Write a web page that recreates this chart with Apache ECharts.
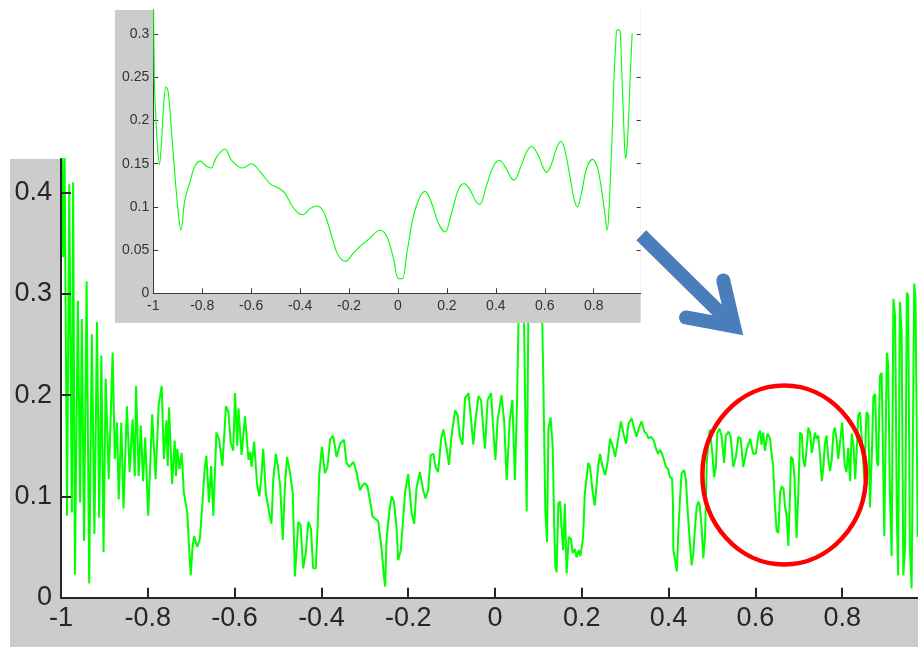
<!DOCTYPE html>
<html><head><meta charset="utf-8">
<script src="https://cdn.jsdelivr.net/npm/echarts@6/dist/echarts.min.js"></script>
<style>html,body{margin:0;padding:0;background:#fff}#c{width:918px;height:647px}</style>
</head><body><div id="c"></div>
<script>
// Main (oscillating) curve: [x, value] turning points
const mainCurve = [
[-1.000,0.50],[-0.995,0.336],[-0.992,0.45],[-0.986,0.081],[-0.981,0.408],[-0.975,0.084],[-0.972,0.41],[-0.968,0.023],[-0.961,0.293],[-0.956,0.094],[-0.952,0.275],[-0.947,0.056],[-0.941,0.312],[-0.935,0.014],[-0.929,0.26],[-0.923,0.063],[-0.917,0.272],[-0.912,0.079],[-0.907,0.239],[-0.902,0.045],[-0.897,0.216],[-0.890,0.117],[-0.881,0.242],[-0.876,0.137],[-0.871,0.173],[-0.867,0.097],[-0.861,0.173],[-0.856,0.088],[-0.848,0.189],[-0.842,0.124],[-0.835,0.176],[-0.830,0.12],[-0.827,0.209],[-0.821,0.12],[-0.816,0.17],[-0.811,0.115],[-0.806,0.158],[-0.799,0.081],[-0.790,0.181],[-0.782,0.117],[-0.775,0.19],[-0.768,0.209],[-0.763,0.137],[-0.757,0.175],[-0.754,0.13],[-0.751,0.188],[-0.744,0.112],[-0.738,0.155],[-0.735,0.12],[-0.732,0.147],[-0.727,0.127],[-0.722,0.143],[-0.717,0.104],[-0.709,0.084],[-0.705,0.05],[-0.701,0.022],[-0.697,0.05],[-0.693,0.061],[-0.686,0.05],[-0.680,0.058],[-0.674,0.094],[-0.669,0.127],[-0.665,0.14],[-0.659,0.094],[-0.654,0.13],[-0.649,0.081],[-0.642,0.163],[-0.636,0.157],[-0.628,0.13],[-0.620,0.189],[-0.614,0.183],[-0.609,0.153],[-0.603,0.145],
[-0.599,0.202],[-0.594,0.150],[-0.591,0.187],[-0.584,0.141],[-0.576,0.179],[-0.568,0.136],[-0.564,0.144],[-0.561,0.129],[-0.555,0.154],[-0.548,0.111],[-0.543,0.100],[-0.539,0.116],[-0.534,0.147],[-0.528,0.103],[-0.520,0.083],[-0.515,0.073],[-0.511,0.116],[-0.505,0.142],[-0.500,0.129],[-0.495,0.110],[-0.489,0.057],[-0.484,0.111],[-0.479,0.139],[-0.472,0.123],[-0.466,0.103],[-0.461,0.021],[-0.453,0.075],[-0.448,0.072],[-0.442,0.029],[-0.436,0.044],[-0.430,0.075],[-0.424,0.068],[-0.419,0.029],[-0.413,0.029],[-0.409,0.067],[-0.405,0.121],[-0.399,0.149],[-0.392,0.123],[-0.386,0.129],[-0.380,0.156],[-0.373,0.160],[-0.365,0.139],[-0.357,0.152],[-0.348,0.156],[-0.342,0.133],[-0.336,0.129],[-0.326,0.134],[-0.319,0.124],[-0.311,0.106],[-0.305,0.111],[-0.300,0.113],[-0.294,0.110],[-0.288,0.096],[-0.282,0.080],[-0.273,0.077],[-0.269,0.075],[-0.261,0.047],[-0.256,0.021],[-0.253,0.011],[-0.250,0.057],[-0.243,0.087],[-0.238,0.100],[-0.233,0.095],[-0.227,0.070],[-0.223,0.037],[-0.217,0.047],[-0.213,0.070],[-0.207,0.105],
[-0.200,0.122],[-0.192,0.083],[-0.186,0.073],[-0.181,0.108],[-0.173,0.124],[-0.165,0.105],[-0.160,0.098],[-0.154,0.106],[-0.148,0.141],[-0.142,0.142],[-0.137,0.129],[-0.131,0.124],[-0.124,0.157],[-0.119,0.166],[-0.111,0.146],[-0.106,0.131],[-0.100,0.160],[-0.092,0.185],[-0.086,0.180],[-0.081,0.159],[-0.075,0.151],[-0.069,0.197],[-0.061,0.202],[-0.055,0.175],[-0.050,0.151],[-0.045,0.175],[-0.038,0.199],[-0.032,0.195],[-0.027,0.166],[-0.023,0.147],[-0.017,0.195],[-0.009,0.202],[-0.004,0.166],[0.001,0.136],[0.006,0.175],[0.015,0.200],[0.021,0.175],[0.027,0.116],[0.034,0.175],[0.040,0.195],[0.046,0.116],[0.051,0.198],
[0.057,0.34],[0.066,0.30],[0.073,0.085],[0.078,0.34],[0.086,0.30],[0.092,0.36],[0.099,0.30],[0.106,0.34],[0.111,0.225],[0.116,0.085],[0.120,0.055],[0.123,0.166],[0.128,0.178],[0.133,0.149],[0.136,0.080],[0.139,0.031],[0.142,0.025],[0.146,0.093],[0.150,0.095],[0.153,0.072],[0.157,0.047],[0.161,0.093],[0.165,0.024],[0.170,0.060],[0.175,0.058],[0.179,0.044],[0.184,0.048],[0.188,0.040],[0.193,0.047],[0.197,0.041],[0.203,0.060],
[0.207,0.103],[0.215,0.133],[0.219,0.129],[0.225,0.105],[0.230,0.091],[0.238,0.131],[0.242,0.142],[0.248,0.129],[0.254,0.121],[0.260,0.135],[0.265,0.157],[0.271,0.150],[0.277,0.139],[0.284,0.157],[0.290,0.174],[0.296,0.162],[0.302,0.152],[0.308,0.172],[0.315,0.177],[0.320,0.168],[0.326,0.159],[0.332,0.168],[0.338,0.174],[0.344,0.164],[0.349,0.162],[0.354,0.157],[0.359,0.159],[0.365,0.156],[0.371,0.147],[0.376,0.142],[0.380,0.146],[0.384,0.143],[0.388,0.138],[0.394,0.129],[0.399,0.127],[0.403,0.119],[0.408,0.118],[0.410,0.095],[0.411,0.047],[0.415,0.037],[0.419,0.026],[0.422,0.060],[0.426,0.096],[0.430,0.123],[0.436,0.126],[0.440,0.116],[0.443,0.093],[0.448,0.060],[0.453,0.032],[0.457,0.044],[0.461,0.070],[0.465,0.090],[0.469,0.095],[0.472,0.090],[0.476,0.070],[0.480,0.039],[0.484,0.060],[0.488,0.133],[0.492,0.156],[0.495,0.166],[0.501,0.142],[0.505,0.119],[0.509,0.129],[0.512,0.162],[0.517,0.167],[0.522,0.160],[0.528,0.133],[0.532,0.160],[0.538,0.164],[0.543,0.159],[0.549,0.129],[0.555,0.139],[0.561,0.159],[0.566,0.157],[0.572,0.129],[0.580,0.146],[0.588,0.157],[0.595,0.142],[0.601,0.142],[0.607,0.161],
[0.611,0.165],[0.614,0.151],[0.618,0.163],[0.622,0.145],[0.628,0.162],[0.634,0.157],[0.637,0.143],[0.641,0.130],[0.645,0.091],[0.649,0.066],[0.653,0.064],[0.657,0.104],[0.661,0.110],[0.665,0.107],[0.668,0.091],[0.672,0.081],[0.676,0.051],[0.680,0.104],[0.682,0.139],[0.686,0.137],[0.690,0.120],[0.695,0.059],[0.699,0.104],[0.703,0.163],[0.707,0.161],[0.710,0.137],[0.714,0.129],[0.718,0.147],[0.722,0.168],[0.726,0.163],[0.730,0.143],[0.733,0.150],[0.737,0.163],[0.741,0.157],[0.745,0.160],[0.749,0.140],[0.753,0.115],[0.757,0.130],[0.760,0.152],[0.764,0.160],[0.768,0.137],[0.772,0.125],[0.776,0.137],[0.780,0.163],[0.783,0.168],[0.787,0.157],[0.791,0.137],[0.795,0.153],[0.800,0.173],[0.802,0.157],[0.806,0.130],[0.810,0.124],[0.814,0.148],[0.818,0.115],[0.822,0.162],[0.826,0.150],[0.830,0.117],[0.834,0.150],[0.837,0.180],[0.841,0.183],[0.845,0.157],[0.851,0.117],[0.856,0.183],[0.860,0.181],[0.864,0.089],[0.868,0.137],[0.872,0.199],[0.876,0.201],[0.880,0.134],[0.883,0.130],[0.887,0.219],[0.891,0.222],[0.895,0.117],[0.897,0.061],[0.903,0.242],[0.906,0.230],[0.910,0.104],[0.914,0.041],[0.918,0.295],[0.922,0.277],[0.926,0.078],[0.929,0.022],[0.933,0.292],[0.937,0.262],[0.941,0.022],[0.945,0.051],[0.949,0.301],[0.952,0.298],[0.956,0.051],[0.960,0.009],[0.966,0.310],[0.969,0.295],[0.974,0.060]
];

// Inset (smooth) curve
const insetCurve = [
[-1.000,0.40],[-0.996,0.25],[-0.989,0.20],[-0.983,0.17],[-0.975,0.149],[-0.966,0.177],[-0.959,0.212],[-0.948,0.239],[-0.939,0.233],[-0.925,0.185],[-0.911,0.135],[-0.898,0.093],[-0.887,0.073],[-0.871,0.108],[-0.850,0.129],[-0.830,0.147],[-0.807,0.153],[-0.782,0.147],[-0.764,0.145],[-0.741,0.158],[-0.707,0.167],[-0.680,0.154],[-0.635,0.145],[-0.598,0.150],[-0.564,0.141],[-0.523,0.127],[-0.489,0.122],[-0.462,0.116],[-0.435,0.102],[-0.408,0.093],[-0.387,0.091],[-0.360,0.098],[-0.333,0.101],[-0.305,0.095],[-0.278,0.073],[-0.251,0.048],[-0.230,0.039],[-0.213,0.037],[-0.190,0.044],[-0.156,0.054],[-0.122,0.062],[-0.073,0.073],[-0.046,0.066],[-0.019,0.041],[0.002,0.017],[0.018,0.017],[0.036,0.046],[0.063,0.089],[0.090,0.112],[0.110,0.118],[0.138,0.104],[0.165,0.081],[0.192,0.071],[0.219,0.093],[0.247,0.120],[0.270,0.127],[0.294,0.120],[0.319,0.106],[0.335,0.103],[0.362,0.125],[0.390,0.147],[0.414,0.154],[0.437,0.147],[0.464,0.133],[0.475,0.131],[0.505,0.149],[0.526,0.164],[0.546,0.170],[0.573,0.160],[0.594,0.145],[0.607,0.140],[0.628,0.150],[0.648,0.168],[0.666,0.176],[0.682,0.166],[0.703,0.135],[0.719,0.110],[0.733,0.100],[0.750,0.116],[0.771,0.145],[0.795,0.155],[0.814,0.147],[0.832,0.120],[0.845,0.093],[0.855,0.073],[0.863,0.100],[0.873,0.166],[0.882,0.243],[0.890,0.289],[0.896,0.305],[0.907,0.304],[0.914,0.262],[0.923,0.193],[0.930,0.156],[0.938,0.177],[0.948,0.243],[0.957,0.301]
];

const mainXTicks = [-1, -0.8, -0.6, -0.4, -0.2, 0, 0.2, 0.4, 0.6, 0.8];
const mainYTicks = [0, 0.1, 0.2, 0.3, 0.4];
const insetXTicks = [-1, -0.8, -0.6, -0.4, -0.2, 0, 0.2, 0.4, 0.6, 0.8];
const insetYTicks = [0, 0.05, 0.1, 0.15, 0.2, 0.25, 0.3];

// annotations in main-plot data coordinates
const arrowTail = [0.337, 0.3577];
const arrowVertex = [0.5507, 0.2677];
const arrowArm1 = [0.526, 0.3131];
const arrowArm2 = [0.4401, 0.2766];
const circleCenter = [0.6664, 0.1211];
const circleLeft = [0.4779, 0.1211];
const circleTop = [0.6664, 0.2095];

const FONT = 'Liberation Sans';
const AX = '#262626';
const chart = echarts.init(document.getElementById('c'));

const panels = [
  {id:'mainPanel', type:'rect', shape:{x:10, y:159, width:908, height:488}, style:{fill:'#cccccc'}, z:0, zlevel:0, silent:true},
  {id:'insetPanel', type:'rect', shape:{x:115, y:10, width:525.7, height:313}, style:{fill:'#cccccc'}, z:0, zlevel:1, silent:true}
];

const option = {
  animation: false,
  backgroundColor: '#ffffff',
  grid: [
    {left:61, top:159, right:0, bottom:49.3, show:true, backgroundColor:'#ffffff', borderWidth:0, z:1, zlevel:0, outerBoundsMode:'none', containLabel:false},
    {left:153.3, top:10, right:277.3, bottom:353.7, show:true, backgroundColor:'#ffffff', borderWidth:0, z:1, zlevel:1, outerBoundsMode:'none', containLabel:false}
  ],
  xAxis: [
    {type:'value', gridIndex:0, min:-1, max:0.9747, z:4, zlevel:0,
     axisLine:{show:true, onZero:false, lineStyle:{color:AX, width:2}},
     axisTick:{show:true, inside:true, length:10, customValues:mainXTicks, lineStyle:{color:AX, width:2}},
     axisLabel:{show:true, customValues:mainXTicks, fontSize:27, fontFamily:FONT, color:AX, margin:7},
     splitLine:{show:false}},
    {type:'value', gridIndex:1, min:-1, max:0.992, z:2, zlevel:1,
     axisLine:{show:true, onZero:false, lineStyle:{color:'#3a3a3a', width:1}},
     axisTick:{show:true, inside:true, length:5, customValues:insetXTicks, lineStyle:{color:'#3a3a3a', width:1}},
     axisLabel:{show:true, customValues:insetXTicks, fontSize:14, fontFamily:FONT, color:'#333333', margin:6},
     splitLine:{show:false}}
  ],
  yAxis: [
    {type:'value', gridIndex:0, min:0, max:0.433, z:4, zlevel:0,
     axisLine:{show:true, onZero:false, lineStyle:{color:AX, width:2}},
     axisTick:{show:true, inside:true, length:10, customValues:mainYTicks, lineStyle:{color:AX, width:2}},
     axisLabel:{show:true, customValues:mainYTicks, fontSize:27, fontFamily:FONT, color:AX, margin:9},
     splitLine:{show:false}},
    {type:'value', gridIndex:1, min:0, max:0.328, z:2, zlevel:1,
     axisLine:{show:true, onZero:false, lineStyle:{color:'#3a3a3a', width:1}},
     axisTick:{show:true, inside:true, length:5, customValues:insetYTicks, lineStyle:{color:'#3a3a3a', width:1}},
     axisLabel:{show:true, customValues:insetYTicks, fontSize:14, fontFamily:FONT, color:'#333333', margin:4},
     splitLine:{show:false}},
    {type:'value', gridIndex:1, position:'right', min:0, max:0.328, z:2, zlevel:1,
     axisLine:{show:false, onZero:false},
     axisTick:{show:true, inside:true, length:4, customValues:insetYTicks, lineStyle:{color:'#3a3a3a', width:1}},
     axisLabel:{show:false},
     splitLine:{show:false}}
  ],
  series: [
    {type:'line', xAxisIndex:0, yAxisIndex:0, data:mainCurve, symbol:'none', showSymbol:false, sampling:null,
     lineStyle:{color:'#00ff00', width:2, join:'bevel'}, z:3, zlevel:0, clip:true, silent:true},
    {type:'line', xAxisIndex:1, yAxisIndex:1, data:insetCurve, symbol:'none', showSymbol:false, smooth:0.35,
     lineStyle:{color:'#00ff00', width:1.1}, z:3, zlevel:1, clip:true, silent:true}
  ],
  graphic: panels
};
chart.setOption(option);

const P = p => chart.convertToPixel({gridIndex:0}, p);
const t = P(arrowTail), v = P(arrowVertex), a1 = P(arrowArm1), a2 = P(arrowArm2);
const cc = P(circleCenter), cl = P(circleLeft), ct = P(circleTop);
const ARROW = '#4a7ebb';
chart.setOption({
  graphic: panels.concat([
    {id:'shaft', type:'polyline', shape:{points:[t, v]}, style:{stroke:ARROW, lineWidth:14, lineCap:'butt', fill:null}, z:10, zlevel:2, silent:true},
    {id:'head', type:'polyline', shape:{points:[a1, v, a2]}, style:{stroke:ARROW, lineWidth:14, lineCap:'round', lineJoin:'miter', miterLimit:10, fill:null}, z:10, zlevel:2, silent:true},
    {id:'ring', type:'ellipse', shape:{cx:cc[0], cy:cc[1], rx:cc[0]-cl[0], ry:cc[1]-ct[1]}, style:{stroke:'#ff0000', lineWidth:4.5, fill:null}, z:10, zlevel:2, silent:true}
  ])
});
</script>
</body></html>
